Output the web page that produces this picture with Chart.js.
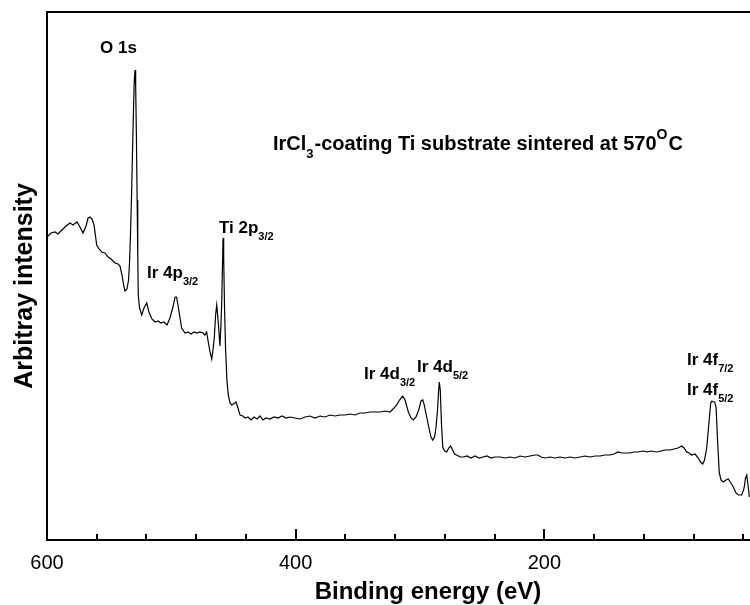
<!DOCTYPE html>
<html>
<head>
<meta charset="utf-8">
<script src="https://cdn.jsdelivr.net/npm/chart.js@4"></script>
<style>
  html, body { margin: 0; padding: 0; background: #fff; }
  canvas { display: block; }
</style>
</head>
<body>
<canvas id="c" width="750" height="605"></canvas>
<script>
// Binding energy (eV) and arbitrary intensity
const energy = [
  600.0, 596.8, 593.6, 591.2, 588.0, 584.7, 581.5, 579.1, 575.9, 573.5,
  571.0, 568.6, 567.0, 565.4, 563.8, 562.2, 560.0, 558.2, 555.8, 553.4,
  550.9, 548.5, 545.3, 542.9, 541.3, 539.7, 538.1, 537.3, 535.7, 534.4,
  533.6, 532.8, 532.0, 531.2, 530.4, 529.8, 529.2, 528.7, 528.1, 527.5,
  527.0, 526.6, 525.6, 523.8, 522.0, 519.8, 518.0, 515.6, 513.1, 510.7,
  508.3, 505.9, 503.5, 501.1, 498.7, 497.0, 495.8, 494.4, 493.0, 491.7,
  489.0, 486.6, 484.2, 481.8, 479.4, 477.0, 474.5, 472.9, 471.6, 470.3,
  468.9, 467.5, 466.5, 465.4, 464.4, 463.5, 462.2, 460.9, 460.1, 459.5,
  458.9, 458.4, 457.9, 457.2, 456.4, 455.3, 454.2, 452.8, 451.5, 450.0,
  448.0, 446.4, 444.8, 442.4, 440.7, 438.3, 435.9, 433.5, 431.1, 428.7,
  426.3, 423.9, 420.6, 417.4, 414.2, 411.0, 407.8, 404.6, 400.5, 396.5,
  392.5, 388.5, 384.4, 380.4, 376.4, 372.4, 368.4, 364.3, 360.3, 356.3,
  352.3, 348.2, 344.2, 340.2, 336.2, 332.2, 328.1, 324.1, 321.7, 318.7,
  316.5, 313.9, 312.0, 309.4, 307.2, 305.4, 303.2, 300.8, 299.2, 297.8,
  296.8, 294.6, 292.8, 291.2, 289.8, 288.3, 287.1, 285.9, 285.1, 284.5,
  283.7, 282.7, 281.7, 280.3, 278.5, 276.9, 275.3, 273.8, 272.2, 270.5,
  267.8, 265.2, 262.2, 259.0, 255.8, 252.5, 249.3, 246.1, 242.9, 239.7,
  235.6, 231.6, 227.6, 223.6, 219.6, 215.5, 211.5, 207.5, 205.1, 202.7,
  199.5, 195.4, 191.4, 187.4, 183.4, 179.4, 175.3, 171.3, 167.3, 163.3,
  159.2, 155.2, 151.2, 147.2, 144.0, 140.8, 137.5, 134.3, 131.1, 127.9,
  124.7, 120.6, 117.4, 114.2, 109.6, 106.2, 102.9, 98.9, 95.7, 92.5,
  89.5, 87.7, 85.5, 83.6, 81.5, 78.8, 76.2, 74.4, 72.6, 71.2,
  69.4, 68.0, 66.2, 65.2, 64.1, 63.0, 61.9, 60.7, 59.3, 57.9,
  56.1, 53.9, 52.1, 49.9, 48.0, 45.9, 44.0, 41.3, 39.8, 39.2,
  38.2, 37.2, 36.2, 35.1
];
const intensity = [
  303, 307, 308, 306, 310, 314, 317, 315, 318, 313,
  307, 314, 322, 323, 321, 315, 295, 291, 288, 287,
  283, 281, 277, 276, 274, 265, 253, 249, 251, 260,
  278, 308, 345, 390, 432, 460, 470, 455, 405, 340,
  285, 245, 232, 225, 232, 237, 228, 221, 218, 219,
  217, 218, 215, 222, 233, 243, 243, 233, 222, 212,
  207, 208, 206, 208, 207, 208, 207, 205, 208, 198,
  188, 181, 190, 203, 225, 235, 217, 194, 215, 237,
  272, 302, 282, 232, 192, 160, 145, 137, 135, 136,
  138, 132, 125, 124, 122, 123, 120, 123, 121, 124,
  120, 122, 121, 123, 122, 124, 122, 123, 122, 121,
  123, 124, 122, 124, 123, 125, 124, 125, 125, 126,
  125, 127, 127, 128, 128, 128, 129, 128, 131, 135,
  140, 144, 140, 128, 122, 120, 123, 131, 139, 140,
  136, 123, 112, 103, 100, 103, 113, 130, 148, 158,
  150, 115, 93, 89, 88, 92, 94, 90, 86, 85,
  83, 83, 84, 82, 84, 82, 83, 84, 82, 83,
  83, 82, 83, 82, 84, 83, 84, 85, 85, 83,
  82, 83, 82, 83, 82, 83, 82, 83, 84, 83,
  84, 84, 85, 85, 86, 88, 87, 87, 87, 88,
  88, 89, 88, 89, 88, 89, 90, 90, 91, 92,
  94, 92, 88, 87, 85, 86, 82, 78, 76, 80,
  92, 112, 137, 139, 138, 138, 133, 100, 67, 60,
  58, 60, 61, 57, 53, 47, 45, 45, 50, 53,
  62, 65, 55, 43
];
const tickValues = [600, 560, 520, 480, 440, 400, 360, 320, 280, 240, 200, 160, 120, 80, 40];
const labelledTicks = [600, 400, 200];
const xTitle = 'Binding energy (eV)';
const yTitle = 'Arbitray intensity';
const peakLabels = [
  { x: 100, y: 53, parts: [['O 1s', 'n']] },
  { x: 147, y: 278, parts: [['Ir 4p', 'n'], ['3/2', 'sub']] },
  { x: 219, y: 233, parts: [['Ti 2p', 'n'], ['3/2', 'sub']] },
  { x: 364, y: 379, parts: [['Ir 4d', 'n'], ['3/2', 'sub']] },
  { x: 417, y: 372, parts: [['Ir 4d', 'n'], ['5/2', 'sub']] },
  { x: 687, y: 365, parts: [['Ir 4f', 'n'], ['7/2', 'sub']] },
  { x: 687, y: 395, parts: [['Ir 4f', 'n'], ['5/2', 'sub']] },
  { x: 273, y: 150, size: 20, parts: [['IrCl', 'n'], ['3', 'sub'], ['-coating Ti substrate sintered at 570', 'n'], ['O', 'sup'], ['C', 'n']] }
];

const FONT = '"Liberation Sans", Arial, Helvetica, sans-serif';
const points = energy.map((e, i) => ({ x: e, y: intensity[i] }));

const decorPlugin = {
  id: 'decor',
  afterDraw(chart) {
    const ctx = chart.ctx;
    const xs = chart.scales.x;
    const area = chart.chartArea;
    ctx.save();
    // inward tick marks
    ctx.strokeStyle = '#000';
    ctx.lineWidth = 2;
    tickValues.forEach(v => {
      const px = Math.round(xs.getPixelForValue(v));
      const len = labelledTicks.includes(v) ? 11 : 6;
      ctx.beginPath();
      ctx.moveTo(px, area.bottom);
      ctx.lineTo(px, area.bottom - len);
      ctx.stroke();
    });
    ctx.fillStyle = '#000';
    // axis titles
    ctx.font = 'bold 24px ' + FONT;
    ctx.textAlign = 'center';
    ctx.textBaseline = 'alphabetic';
    ctx.fillText(xTitle, 428, 599);
    ctx.save();
    ctx.font = 'bold 25px ' + FONT;
    ctx.translate(32, 286);
    ctx.rotate(-Math.PI / 2);
    ctx.fillText(yTitle, 0, 0);
    ctx.restore();
    // peak labels
    ctx.textAlign = 'left';
    peakLabels.forEach(lab => {
      const size = lab.size || 17;
      let x = lab.x;
      lab.parts.forEach(([txt, kind]) => {
        let fs = size, dy = 0;
        if (kind === 'sub') { fs = Math.round(size * 0.65); dy = Math.round(size * 0.42); }
        if (kind === 'sup') { fs = Math.round(size * 0.7); dy = -Math.round(size * 0.55); }
        ctx.font = 'bold ' + fs + 'px ' + FONT;
        ctx.fillText(txt, x, lab.y + dy);
        x += ctx.measureText(txt).width + (kind === 'n' ? 0 : 1);
      });
    });
    ctx.restore();
  }
};

new Chart(document.getElementById('c'), {
  type: 'line',
  data: {
    datasets: [{
      data: points,
      borderColor: '#000',
      borderWidth: 1.2,
      pointRadius: 0,
      tension: 0,
      fill: false
    }]
  },
  options: {
    responsive: false,
    animation: false,
    devicePixelRatio: 1,
    layout: { padding: 0 },
    plugins: { legend: { display: false }, tooltip: { enabled: false } },
    scales: {
      x: {
        type: 'linear',
        position: 'bottom',
        reverse: true,
        min: 34.6,
        max: 600,
        afterBuildTicks(s) { s.ticks = tickValues.map(v => ({ value: v })); },
        afterFit(s) { s.height = 65; s.paddingLeft = 0; s.paddingRight = 0; },
        ticks: {
          autoSkip: false,
          maxRotation: 0,
          padding: 11,
          color: '#000',
          font: { size: 20, family: FONT },
          callback: v => labelledTicks.includes(v) ? String(v) : ''
        },
        grid: { display: false, drawTicks: false },
        border: { display: true, color: '#000', width: 2 }
      },
      x2: {
        type: 'linear',
        position: 'top',
        reverse: true,
        min: 34.6,
        max: 600,
        afterFit(s) { s.height = 12; s.paddingLeft = 0; s.paddingRight = 0; },
        ticks: { display: false },
        grid: { display: false, drawTicks: false },
        border: { display: true, color: '#000', width: 2 }
      },
      y: {
        min: 0,
        max: 528,
        afterFit(s) { s.width = 47; s.paddingTop = 0; s.paddingBottom = 0; },
        ticks: { display: false },
        grid: { display: false, drawTicks: false },
        border: { display: true, color: '#000', width: 2 }
      }
    }
  },
  plugins: [decorPlugin]
});
</script>
</body>
</html>
